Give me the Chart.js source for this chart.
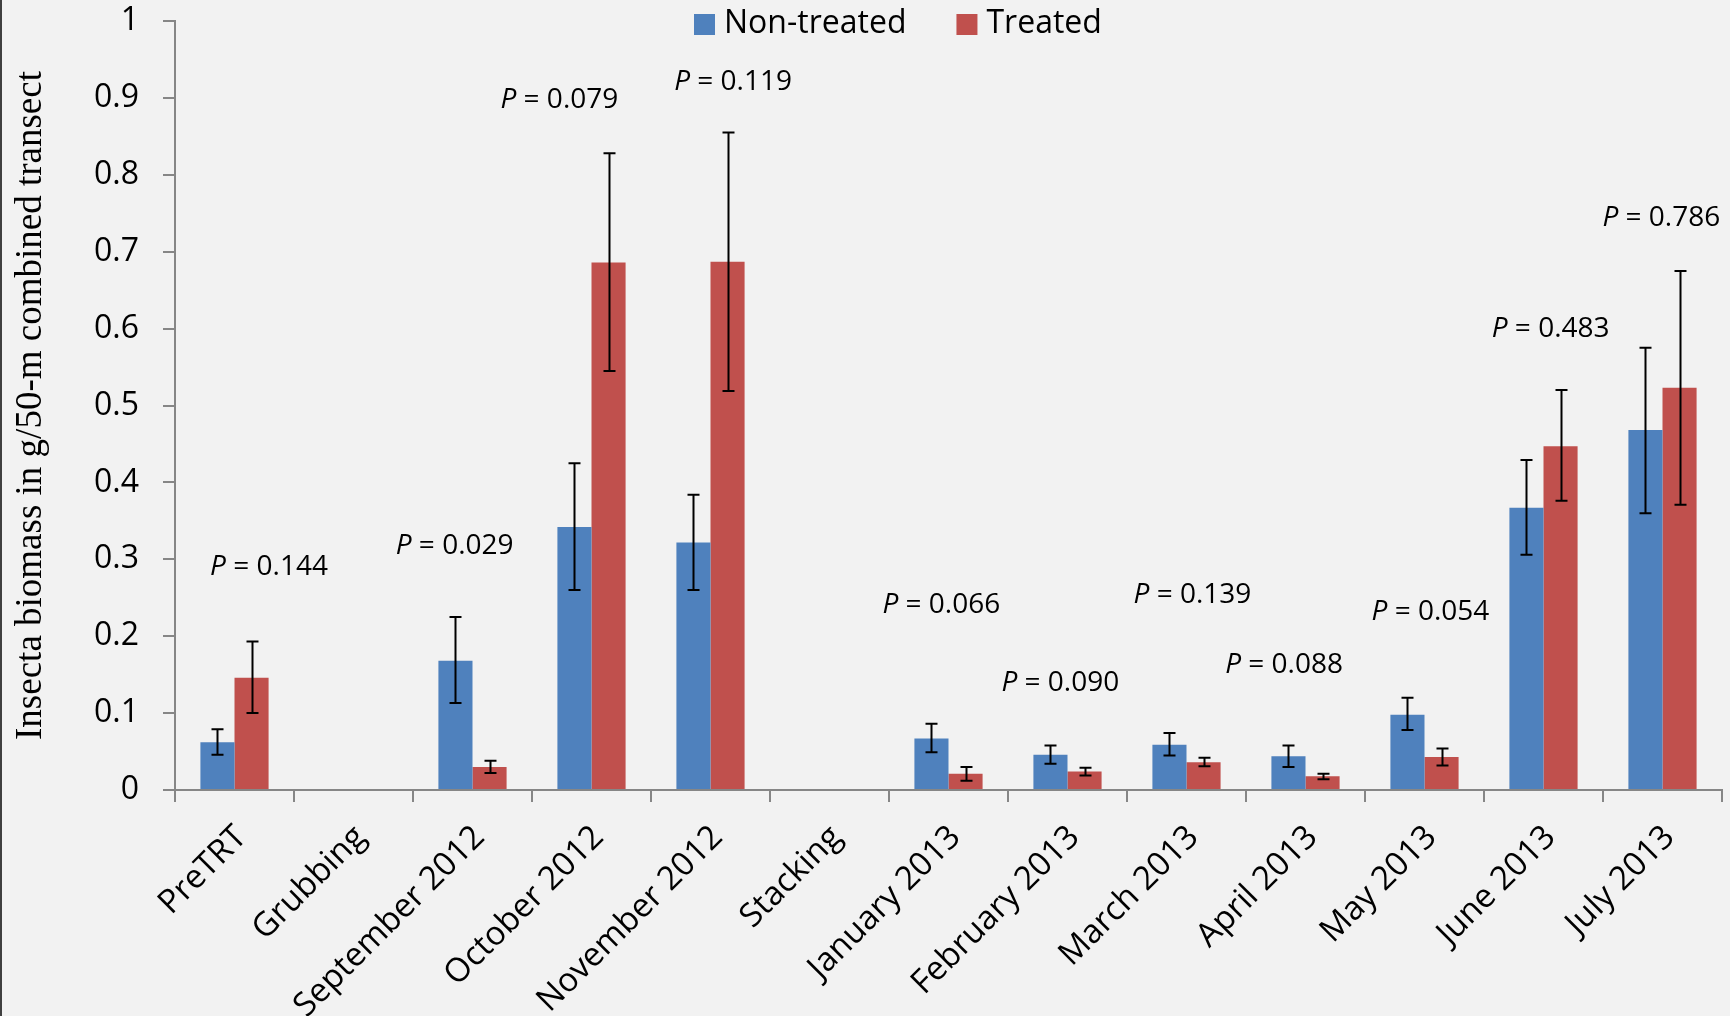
<!DOCTYPE html>
<html>
<head>
<meta charset="utf-8">
<script src="https://cdn.jsdelivr.net/npm/chart.js@4.4.1/dist/chart.umd.min.js"></script>
<style>
  html, body { margin: 0; padding: 0; background: #f2f2f2; }
  #wrap { position: relative; width: 1730px; height: 1016px; }
  #edge { position: absolute; left: 0; top: 0; width: 2px; height: 1016px; background: #404040; }
</style>
</head>
<body>
<div id="wrap">
  <canvas id="c" width="1730" height="1016"></canvas>
  <div id="edge"></div>
</div>
<script>
const categories = ["PreTRT", "Grubbing", "September 2012", "October 2012", "November 2012", "Stacking",
  "January 2013", "February 2013", "March 2013", "April 2013", "May 2013", "June 2013", "July 2013"];
const seriesNames = ["Non-treated", "Treated"];
const nonTreated     = [0.062, null, 0.168, 0.342, 0.322, null, 0.067, 0.046, 0.059, 0.044, 0.098, 0.367, 0.468];
const nonTreatedHigh = [0.079, null, 0.225, 0.425, 0.384, null, 0.086, 0.058, 0.074, 0.058, 0.120, 0.429, 0.575];
const nonTreatedLow  = [0.046, null, 0.113, 0.260, 0.260, null, 0.049, 0.034, 0.045, 0.030, 0.078, 0.306, 0.360];
const treated        = [0.146, null, 0.030, 0.686, 0.687, null, 0.021, 0.024, 0.036, 0.018, 0.043, 0.447, 0.523];
const treatedHigh    = [0.193, null, 0.038, 0.828, 0.855, null, 0.030, 0.029, 0.042, 0.021, 0.054, 0.520, 0.675];
const treatedLow     = [0.100, null, 0.022, 0.545, 0.519, null, 0.012, 0.019, 0.031, 0.014, 0.032, 0.376, 0.371];
const pValues   = ["0.144", null, "0.029", "0.079", "0.119", null, "0.066", "0.090", "0.139", "0.088", "0.054", "0.483", "0.786"];
const pLabelY   = [0.290, null, 0.317, 0.897, 0.921, null, 0.241, 0.139, 0.254, 0.163, 0.231, 0.599, 0.744];
const pLabelShift = [0.29, null, -0.15, -0.27, 0.19, null, -0.06, -0.06, 0.05, -0.18, 0.05, 0.06, -0.01];
const yTicks = [0, 0.1, 0.2, 0.3, 0.4, 0.5, 0.6, 0.7, 0.8, 0.9, 1];
const yTitle = "Insecta biomass in g/50-m combined transect";

const AXIS = "#868686";
const SANS = "'Open Sans', 'Noto Sans', sans-serif";

const errorBars = {
  id: "errorBars",
  afterDatasetsDraw(chart) {
    const ctx = chart.ctx;
    const y = chart.scales.y;
    const highs = [nonTreatedHigh, treatedHigh];
    const lows = [nonTreatedLow, treatedLow];
    ctx.save();
    ctx.strokeStyle = "#000";
    ctx.lineWidth = 2;
    chart.data.datasets.forEach((ds, di) => {
      const meta = chart.getDatasetMeta(di);
      meta.data.forEach((bar, i) => {
        if (highs[di][i] == null) return;
        const x = Math.round(bar.x) + 0.5;
        const yh = y.getPixelForValue(highs[di][i]);
        const yl = y.getPixelForValue(lows[di][i]);
        ctx.beginPath();
        ctx.moveTo(x, yh); ctx.lineTo(x, yl);
        ctx.moveTo(x - 6, yh); ctx.lineTo(x + 6, yh);
        ctx.moveTo(x - 6, yl); ctx.lineTo(x + 6, yl);
        ctx.stroke();
      });
    });
    ctx.restore();
  }
};

const pLabels = {
  id: "pLabels",
  afterDatasetsDraw(chart) {
    const ctx = chart.ctx;
    const xs = chart.scales.x, ys = chart.scales.y;
    const catW = (xs.right - xs.left) / categories.length;
    ctx.save();
    ctx.fillStyle = "#000";
    ctx.textBaseline = "middle";
    ctx.textAlign = "left";
    pValues.forEach((p, i) => {
      if (p == null) return;
      const cx = xs.getPixelForValue(i) + pLabelShift[i] * catW;
      const cy = ys.getPixelForValue(pLabelY[i]);
      const italic = "italic 28px " + SANS;
      const normal = "28px " + SANS;
      const rest = " = " + p;
      ctx.font = italic; const w1 = ctx.measureText("P").width;
      ctx.font = normal; const w2 = ctx.measureText(rest).width;
      let x0 = cx - (w1 + w2) / 2;
      ctx.font = italic; ctx.fillText("P", x0, cy);
      ctx.font = normal; ctx.fillText(rest, x0 + w1, cy);
    });
    ctx.restore();
  }
};

const topLegend = {
  id: "topLegend",
  afterDraw(chart) {
    const ctx = chart.ctx;
    ctx.save();
    ctx.font = "32px " + SANS;
    ctx.textBaseline = "middle";
    ctx.textAlign = "left";
    let x = 694;
    const yMid = 24;
    chart.data.datasets.forEach((ds, i) => {
      ctx.fillStyle = ds.backgroundColor;
      ctx.fillRect(x, yMid - 10, 21, 21);
      ctx.fillStyle = "#000";
      ctx.fillText(ds.label, x + 30, yMid);
      x += 30 + ctx.measureText(ds.label).width + 50;
    });
    ctx.restore();
  }
};

new Chart(document.getElementById("c"), {
  type: "bar",
  data: {
    labels: categories,
    datasets: [
      { label: seriesNames[0], data: nonTreated, backgroundColor: "#4f81bd", borderWidth: 0 },
      { label: seriesNames[1], data: treated, backgroundColor: "#c0504d", borderWidth: 0 }
    ]
  },
  options: {
    responsive: false,
    animation: false,
    layout: { padding: { top: 0, right: 8, left: 0, bottom: 0 } },
    datasets: { bar: { categoryPercentage: 0.573, barPercentage: 1.0 } },
    plugins: { legend: { display: false }, tooltip: { enabled: false } },
    scales: {
      x: {
        grid: { display: true, drawOnChartArea: false, offset: true, tickLength: 12, color: AXIS, lineWidth: 2 },
        border: { display: true, color: AXIS, width: 2 },
        ticks: { maxRotation: 45, minRotation: 45, autoSkip: false, padding: 16, labelOffset: 7,
                 color: "#000", font: { family: SANS, size: 33 } },
        afterFit(s) { s.height = 226; }
      },
      y: {
        min: 0, max: 1,
        afterBuildTicks(s) { s.ticks = yTicks.map(v => ({ value: v })); },
        grid: { display: true, drawOnChartArea: false, tickLength: 12, color: AXIS, lineWidth: 2 },
        border: { display: true, color: AXIS, width: 2 },
        ticks: { padding: 24, color: "#000", font: { family: SANS, size: 32 },
                 callback: v => String(Math.round(v * 10) / 10) },
        title: { display: true, text: yTitle, color: "#000", padding: { top: 9, bottom: 0 },
                 font: { family: "'Liberation Serif', 'Times New Roman', serif", size: 37, weight: "normal" } },
        afterFit(s) { s.width = 175; s.paddingTop = 21; }
      }
    }
  },
  plugins: [errorBars, pLabels, topLegend]
});
</script>
</body>
</html>
